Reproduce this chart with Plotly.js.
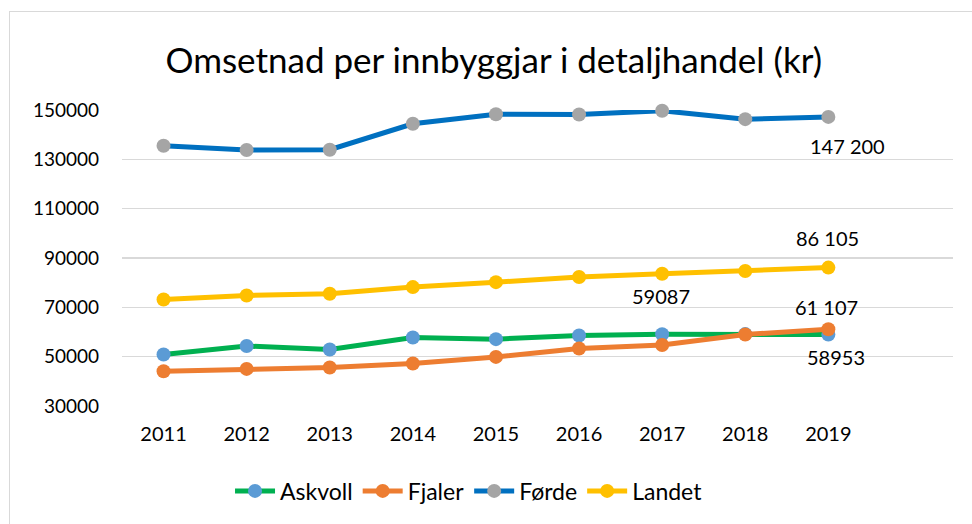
<!DOCTYPE html>
<html>
<head>
<meta charset="utf-8">
<script src="https://cdn.plot.ly/plotly-3.0.1.min.js"></script>
<style>
  html, body { margin: 0; padding: 0; background: #fff; }
  #wrap { position: relative; width: 972px; height: 524px; overflow: hidden; }
  #chart { width: 972px; height: 524px; }
  #frame { position: absolute; left: 9px; top: 11px; width: 990px; height: 540px; border: 1px solid #d9d9d9; pointer-events: none; }
</style>
</head>
<body>
<div id="wrap"><div id="chart"></div><div id="frame"></div></div>
<script>
const years = [2011, 2012, 2013, 2014, 2015, 2016, 2017, 2018, 2019];
const askvoll = [50900, 54300, 52900, 57800, 57100, 58600, 59087, 59150, 58953];
const fjaler  = [44100, 45050, 45600, 47200, 49900, 53300, 54700, 59000, 61107];
const forde   = [135500, 133800, 133900, 144400, 148300, 148200, 149700, 146300, 147200];
const landet  = [73200, 74800, 75500, 78200, 80200, 82300, 83600, 84700, 86105];
const yTicks = [30000, 50000, 70000, 90000, 110000, 130000, 150000];
const seriesNames = ["Askvoll", "Fjaler", "Førde", "Landet"];

// data labels: [series index, year index, text, xshift, yshift]
const labels = [
  [2, 8, "147 200", 19, -29],
  [3, 8, "86 105", -1, 30],
  [0, 6, "59087", -1, 38],
  [1, 8, "61 107", -2, 22],
  [0, 8, "58953", 8, -22]
];

const values = [askvoll, fjaler, forde, landet];
const lineColors = ["#00B050", "#ED7D31", "#0070C0", "#FFC000"];
const markerColors = ["#5B9BD5", "#ED7D31", "#A5A5A5", "#FFC000"];

const traces = seriesNames.map((n, i) => ({
  type: "scatter",
  mode: "lines+markers",
  name: n,
  x: years,
  y: values[i],
  line: { color: lineColors[i], width: 5 },
  marker: { color: markerColors[i], size: 14 },
  cliponaxis: false
}));

const font = "Lato, 'Open Sans', sans-serif";

const annotations = labels.map(l => ({
  x: years[l[1]],
  y: values[l[0]][l[1]],
  xref: "x", yref: "y",
  text: l[2],
  showarrow: false,
  xshift: l[3],
  yshift: l[4],
  font: { family: font, size: 20, color: "#000" }
}));

const layout = {
  width: 972, height: 524,
  margin: { l: 122, r: 19, t: 110, b: 118 },
  paper_bgcolor: "#fff",
  plot_bgcolor: "#fff",
  font: { family: font, size: 20, color: "#000" },
  title: {
    text: "Omsetnad per innbyggjar i detaljhandel (kr)",
    font: { family: font, size: 35, color: "#000" },
    x: 0.508, xref: "container", xanchor: "center",
    y: 0.885, yref: "container", yanchor: "middle"
  },
  xaxis: {
    range: [2010.5, 2020.5],
    tickvals: years,
    ticktext: years.map(String),
    showgrid: false,
    zeroline: false,
    showline: false,
    ticks: "",
    ticklabelstandoff: 14,
    tickfont: { family: font, size: 20, color: "#000" }
  },
  yaxis: {
    range: [30000, 150000],
    tickvals: yTicks,
    ticktext: yTicks.map(String),
    showgrid: true,
    gridcolor: "#d9d9d9",
    gridwidth: 1.5,
    zeroline: false,
    showline: false,
    ticks: "",
    ticklabelstandoff: 22,
    tickfont: { family: font, size: 19, color: "#000" }
  },
  showlegend: true,
  legend: {
    orientation: "h",
    x: 0.4176, xanchor: "center",
    y: -0.287, yanchor: "middle",
    font: { family: font, size: 23, color: "#000" },
    itemwidth: 40,
    tracegroupgap: 0
  },
  annotations: annotations
};

Plotly.newPlot("chart", traces, layout, { displayModeBar: false, staticPlot: true });
</script>
</body>
</html>
